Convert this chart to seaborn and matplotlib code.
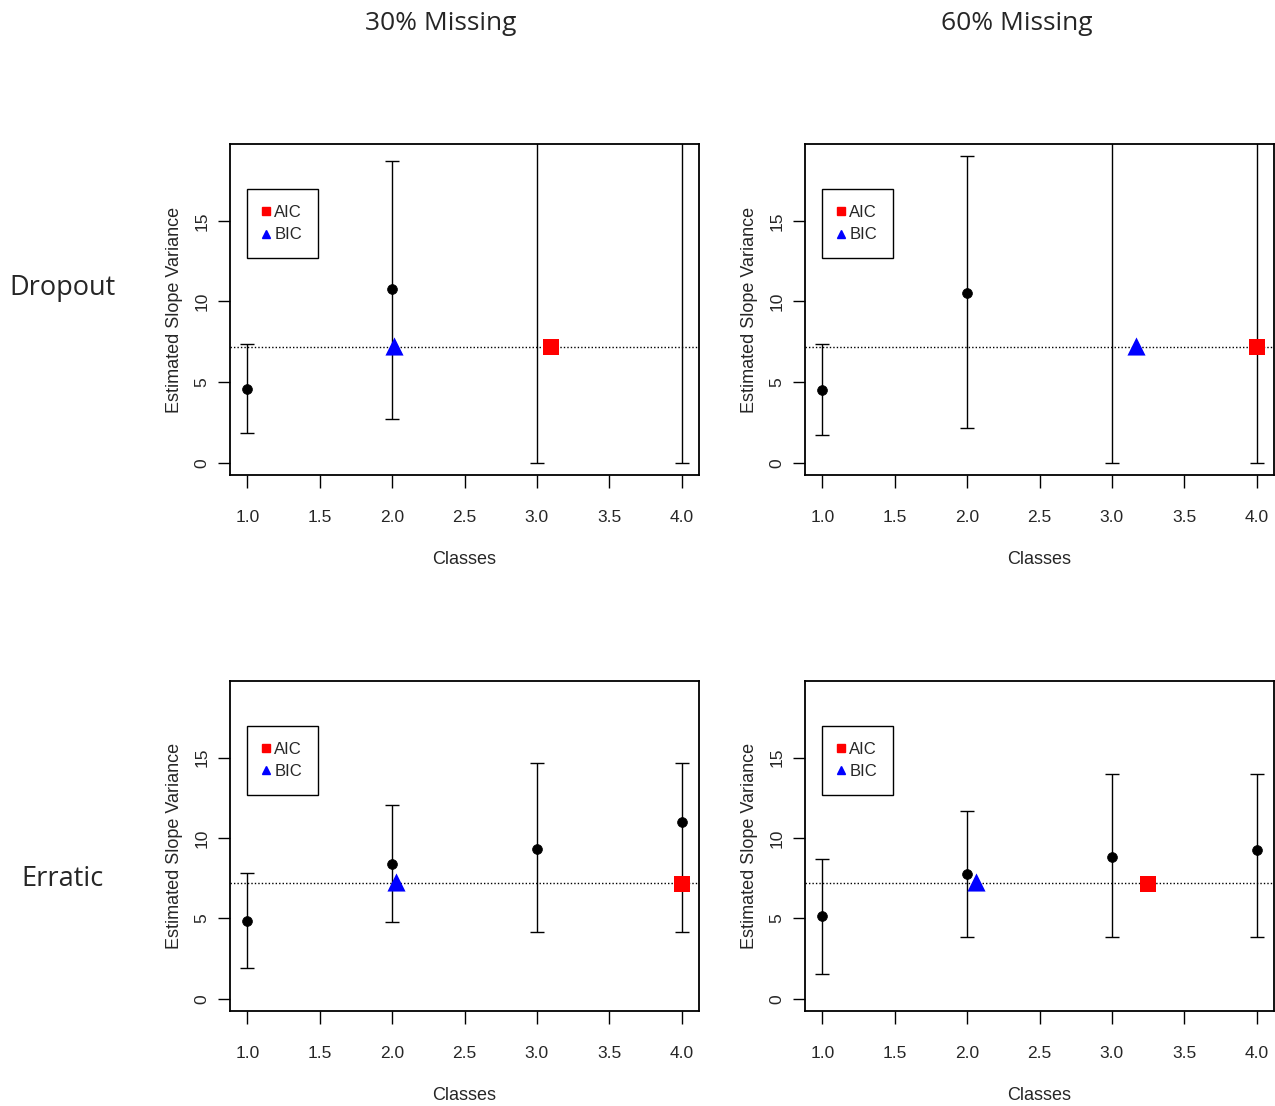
import numpy as np
import pandas as pd
import matplotlib
matplotlib.use("Agg")
import matplotlib.pyplot as plt
from matplotlib.lines import Line2D
import seaborn as sns

# ---------------- data ----------------
classes = [1, 2, 3, 4]
true_value = 7.2

# Dropout, 30% missing
d30_est = [4.57, 10.74, np.nan, np.nan]
d30_lo = [1.82, 2.69, 0.0, 0.0]
d30_hi = [7.37, 18.72, 40.0, 40.0]
d30_aic = (3.10, 7.2)
d30_bic = (2.01, 7.25)

# Dropout, 60% missing
d60_est = [4.49, 10.55, np.nan, np.nan]
d60_lo = [1.74, 2.17, 0.0, 0.0]
d60_hi = [7.37, 18.99, 40.0, 40.0]
d60_aic = (4.0, 7.2)
d60_bic = (3.17, 7.25)

# Erratic, 30% missing
e30_est = [4.83, 8.41, 9.34, 11.0]
e30_lo = [1.89, 4.76, 4.14, 4.14]
e30_hi = [7.83, 12.06, 14.67, 14.67]
e30_aic = (4.0, 7.15)
e30_bic = (2.03, 7.25)

# Erratic, 60% missing
e60_est = [5.12, 7.79, 8.83, 9.26]
e60_lo = [1.57, 3.83, 3.83, 3.83]
e60_hi = [8.70, 11.70, 13.96, 13.96]
e60_aic = (3.25, 7.15)
e60_bic = (2.06, 7.25)

x_ticks = [1.0, 1.5, 2.0, 2.5, 3.0, 3.5, 4.0]
x_tick_labels = ["1.0", "1.5", "2.0", "2.5", "3.0", "3.5", "4.0"]
y_ticks = [0, 5, 10, 15]
y_tick_labels = ["0", "5", "10", "15"]
col_titles = ["30% Missing", "60% Missing"]
row_titles = ["Dropout", "Erratic"]

# ---------------- style ----------------
sns.set_theme(style="white")
plt.rcParams["font.family"] = ["Liberation Sans", "DejaVu Sans"]

W, H = 1275, 1106
fig = plt.figure(figsize=(W / 100, H / 100), dpi=100)

def px_axes(x0, y0, x1, y1):
    return fig.add_axes([x0 / W, 1 - y1 / H, (x1 - x0) / W, (y1 - y0) / H])

panels = [
    (px_axes(230, 144, 699, 475), d30_est, d30_lo, d30_hi, d30_aic, d30_bic),
    (px_axes(805, 144, 1274, 475), d60_est, d60_lo, d60_hi, d60_aic, d60_bic),
    (px_axes(230, 681, 699, 1011), e30_est, e30_lo, e30_hi, e30_aic, e30_bic),
    (px_axes(805, 681, 1274, 1011), e60_est, e60_lo, e60_hi, e60_aic, e60_bic),
]

for ax, est, lo, hi, aic, bic in panels:
    df = pd.DataFrame({"cls": classes, "est": est, "lo": lo, "hi": hi})
    ax.axhline(true_value, color="black", linestyle=(0, (1, 1.5)), linewidth=1, zorder=1)
    mid = (df["lo"] + df["hi"]) / 2
    ax.errorbar(df["cls"], mid, yerr=[mid - df["lo"], df["hi"] - mid], fmt="none",
                ecolor="black", elinewidth=1, capsize=5, capthick=1, zorder=2)
    sns.scatterplot(data=df.dropna(), x="cls", y="est", color="black", s=50,
                    edgecolor="black", linewidth=0.5, ax=ax, legend=False, zorder=3)
    sns.scatterplot(x=[aic[0]], y=[aic[1]], marker="s", color="red", s=130,
                    edgecolor="red", linewidth=0, ax=ax, legend=False, zorder=4)
    sns.scatterplot(x=[bic[0]], y=[bic[1]], marker="^", color="blue", s=170,
                    edgecolor="blue", linewidth=0, ax=ax, legend=False, zorder=4)

    ax.set_xlim(0.88, 4.12)
    ax.set_ylim(-0.76, 19.76)
    ax.set_xticks(x_ticks)
    ax.set_xticklabels(x_tick_labels, fontsize=12.5)
    ax.set_yticks(y_ticks)
    ax.set_yticklabels(y_tick_labels, fontsize=12.5, rotation=90, va="center")
    ax.tick_params(axis="both", direction="out", length=9, width=1, color="black",
                   bottom=True, left=True)
    ax.tick_params(axis="x", pad=16)
    ax.tick_params(axis="y", pad=6)
    for s in ax.spines.values():
        s.set_visible(True)
        s.set_color("black")
        s.set_linewidth(1.3)
    ax.set_xlabel("Classes", fontsize=13, labelpad=19)
    ax.set_ylabel("Estimated Slope Variance", fontsize=13, labelpad=8)

    handles = [
        Line2D([], [], marker="s", color="red", linestyle="none", markersize=6),
        Line2D([], [], marker="^", color="blue", linestyle="none", markersize=6),
    ]
    leg = ax.legend(handles, ["AIC", "BIC"], loc="upper left",
                    bbox_to_anchor=(0.036, 0.864), borderaxespad=0,
                    fancybox=False, framealpha=1, edgecolor="black",
                    fontsize=12, handlelength=0.4, handletextpad=0.3,
                    borderpad=0.95, labelspacing=0.45)
    leg.get_frame().set_linewidth(1)

title_font = ["Open Sans", "DejaVu Sans"]
fig.text(441 / W, 1 - 24 / H, col_titles[0], ha="center", va="center",
         fontsize=19, family=title_font)
fig.text(1017 / W, 1 - 24 / H, col_titles[1], ha="center", va="center",
         fontsize=19, family=title_font)
fig.text(62 / W, 1 - 288 / H, row_titles[0], ha="center", va="center",
         fontsize=19.5, family=title_font)
fig.text(62 / W, 1 - 879 / H, row_titles[1], ha="center", va="center",
         fontsize=19.5, family=title_font)

fig.savefig("out.png", dpi=100, facecolor="white")
